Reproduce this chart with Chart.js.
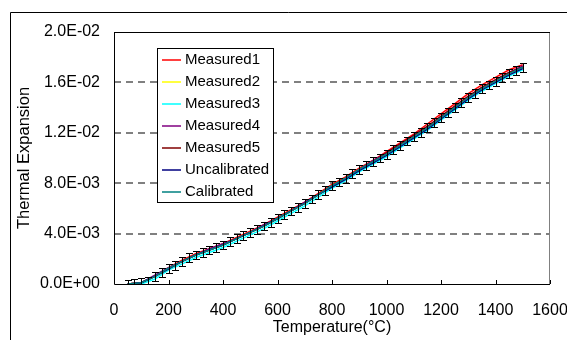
<!DOCTYPE html>
<html>
<head>
<meta charset="utf-8">
<script src="https://cdn.jsdelivr.net/npm/chart.js@4/dist/chart.umd.min.js"></script>
<style>
	html, body { margin: 0; padding: 0; background: #fff; }
</style>
</head>
<body>
<canvas id="chart" width="567" height="340"></canvas>
<script>
// temperatures (°C) of the line series
const temps = [50, 100, 150, 200, 250, 300, 350, 400, 450, 500, 550, 600, 650, 700, 750,
	800, 850, 900, 950, 1000, 1050, 1100, 1150, 1200, 1250, 1300, 1350, 1400, 1450, 1500];

const measured1 = [0, 0.0001, 0.0006, 0.0013, 0.0019, 0.0024, 0.0028, 0.0032, 0.0037, 0.0042, 0.0047, 0.0053, 0.0059, 0.0065, 0.0072,
	0.0079, 0.0085, 0.0092, 0.0098, 0.0105, 0.0112, 0.0119, 0.0127, 0.0135, 0.0143, 0.0151, 0.0158, 0.0164, 0.0170, 0.0174];
const measured2 = [0, 0.0001, 0.0006, 0.0012, 0.0018, 0.0023, 0.0027, 0.0031, 0.0036, 0.0041, 0.0046, 0.0052, 0.0058, 0.0064, 0.0071,
	0.0078, 0.0084, 0.0091, 0.0097, 0.0103, 0.0110, 0.0117, 0.0124, 0.0132, 0.0140, 0.0148, 0.0155, 0.0161, 0.0167, 0.0172];
const measured3 = [0, 0.0000, 0.0004, 0.0011, 0.0016, 0.0021, 0.0025, 0.0029, 0.0034, 0.0039, 0.0044, 0.0050, 0.0056, 0.0062, 0.0069,
	0.0076, 0.0082, 0.0089, 0.0095, 0.0101, 0.0108, 0.0115, 0.0122, 0.0130, 0.0138, 0.0146, 0.0153, 0.0159, 0.0165, 0.0170];
const measured4 = [0, 0.0001, 0.0007, 0.0013, 0.0018, 0.0023, 0.0028, 0.0032, 0.0036, 0.0041, 0.0047, 0.0052, 0.0058, 0.0065, 0.0071,
	0.0078, 0.0084, 0.0091, 0.0098, 0.0104, 0.0111, 0.0118, 0.0125, 0.0133, 0.0141, 0.0149, 0.0156, 0.0162, 0.0168, 0.0173];
const measured5 = [0, 0.0001, 0.0006, 0.0012, 0.0018, 0.0023, 0.0027, 0.0031, 0.0036, 0.0041, 0.0046, 0.0052, 0.0058, 0.0064, 0.0071,
	0.0078, 0.0084, 0.0091, 0.0097, 0.0104, 0.0111, 0.0118, 0.0125, 0.0133, 0.0141, 0.0149, 0.0156, 0.0162, 0.0168, 0.0172];
const uncalibrated = [0, 0.0001, 0.0006, 0.0012, 0.0018, 0.0023, 0.0027, 0.0031, 0.0036, 0.0041, 0.0046, 0.0052, 0.0058, 0.0064, 0.0071,
	0.0077, 0.0083, 0.0090, 0.0096, 0.0102, 0.0109, 0.0116, 0.0123, 0.0131, 0.0139, 0.0147, 0.0154, 0.0160, 0.0166, 0.0171];
const calibrated = [0, 0.0001, 0.0006, 0.00125, 0.0018, 0.0023, 0.0027, 0.0031, 0.0036, 0.0041, 0.0046, 0.0052, 0.0058, 0.0064, 0.0071,
	0.0078, 0.0084, 0.0091, 0.0097, 0.0103, 0.0110, 0.0117, 0.0124, 0.0132, 0.0140, 0.0148, 0.0155, 0.0161, 0.0167, 0.0172];

// error bars (every 25 °C)
const errTemps = [50, 75, 100, 125, 150, 175, 200, 225, 250, 275, 300, 325, 350, 375, 400, 425, 450, 475, 500,
	525, 550, 575, 600, 625, 650, 675, 700, 725, 750, 775, 800, 825, 850, 875, 900, 925, 950, 975, 1000,
	1025, 1050, 1075, 1100, 1125, 1150, 1175, 1200, 1225, 1250, 1275, 1300, 1325, 1350, 1375, 1400, 1425, 1450, 1475, 1500];
const errValues = [0, 0.00003, 0.0001, 0.0002, 0.0006, 0.0009, 0.00125, 0.0015, 0.0018, 0.0021, 0.0023, 0.0025, 0.0027, 0.0029, 0.0031,
	0.00335, 0.0036, 0.00385, 0.0041, 0.00435, 0.0046, 0.0049, 0.0052, 0.0055, 0.0058, 0.0061, 0.0064, 0.00675, 0.0071, 0.00745,
	0.0078, 0.0081, 0.0084, 0.00875, 0.0091, 0.0094, 0.0097, 0.0100, 0.0103, 0.01065, 0.0110, 0.01135, 0.0117, 0.01205, 0.0124,
	0.0128, 0.0132, 0.0136, 0.0140, 0.0144, 0.0148, 0.01515, 0.0155, 0.0158, 0.0161, 0.0164, 0.0167, 0.01695, 0.0172];
const errHalf = 0.00035;

const seriesNames = ["Measured1", "Measured2", "Measured3", "Measured4", "Measured5", "Uncalibrated", "Calibrated"];
const seriesValues = [measured1, measured2, measured3, measured4, measured5, uncalibrated, calibrated];
const seriesColors = ["#ff0000", "#ffff00", "#00ffff", "#800080", "#800000", "#000080", "#008080"];

const xTicks = [0, 200, 400, 600, 800, 1000, 1200, 1400, 1600];
const yTicks = [0, 0.004, 0.008, 0.012, 0.016, 0.02];
const yTickLabels = ["0.0E+00", "4.0E-03", "8.0E-03", "1.2E-02", "1.6E-02", "2.0E-02"];

const FONT = "'Liberation Sans', Arial, sans-serif";

const datasets = seriesNames.map((name, i) => ({
	label: name,
	data: temps.map((t, j) => ({ x: t, y: seriesValues[i][j] })),
	borderColor: seriesColors[i],
	backgroundColor: seriesColors[i],
	borderWidth: 1.5,
	pointRadius: 0,
	tension: 0,
	fill: false,
	order: seriesNames.length - i,
}));

const decorPlugin = {
	id: "decor",
	beforeDraw(chart) {
		const ctx = chart.ctx;
		ctx.save();
		ctx.fillStyle = "#fff";
		ctx.fillRect(0, 0, chart.width, chart.height);
		ctx.strokeStyle = "#000";
		ctx.lineWidth = 1;
		ctx.beginPath();
		ctx.moveTo(10.5, chart.height);
		ctx.lineTo(10.5, 12.5);
		ctx.lineTo(chart.width, 12.5);
		ctx.stroke();
		ctx.restore();
	},
	afterDatasetsDraw(chart) {
		const ctx = chart.ctx;
		const xs = chart.scales.x;
		const ys = chart.scales.y;
		const a = chart.chartArea;

		// error bars
		ctx.save();
		ctx.beginPath();
		ctx.rect(a.left, a.top, a.right - a.left, a.bottom - a.top);
		ctx.clip();
		ctx.strokeStyle = "#000";
		ctx.lineWidth = 1;
		ctx.beginPath();
		errTemps.forEach((t, i) => {
			const x = Math.round(xs.getPixelForValue(t)) + 0.5;
			const y1 = Math.round(ys.getPixelForValue(errValues[i] - errHalf)) + 0.5;
			const y2 = Math.round(ys.getPixelForValue(errValues[i] + errHalf)) + 0.5;
			ctx.moveTo(x, y1);
			ctx.lineTo(x, y2);
			ctx.moveTo(x - 3.5, y1);
			ctx.lineTo(x + 3.5, y1);
			ctx.moveTo(x - 3.5, y2);
			ctx.lineTo(x + 3.5, y2);
		});
		ctx.stroke();
		ctx.restore();

		// plot border
		ctx.save();
		ctx.lineWidth = 1;
		ctx.strokeStyle = "#808080";
		ctx.beginPath();
		ctx.moveTo(a.right - 0.5, a.top);
		ctx.lineTo(a.right - 0.5, a.bottom);
		ctx.stroke();
		ctx.strokeStyle = "#000";
		ctx.beginPath();
		ctx.moveTo(a.left + 0.5, a.top + 0.5);
		ctx.lineTo(a.right, a.top + 0.5);
		ctx.moveTo(a.left + 0.5, a.top);
		ctx.lineTo(a.left + 0.5, a.bottom + 0.5);
		ctx.lineTo(a.right, a.bottom + 0.5);
		// inward x ticks
		xTicks.forEach((t) => {
			const x = Math.round(xs.getPixelForValue(t)) + 0.5;
			ctx.moveTo(x, a.bottom);
			ctx.lineTo(x, a.bottom - 4);
		});
		ctx.stroke();
		ctx.restore();
	},
	afterDraw(chart) {
		const ctx = chart.ctx;
		const left = 157, top = 48, w = 116, rowH = 22;
		ctx.save();
		ctx.fillStyle = "#fff";
		ctx.fillRect(left, top, w, rowH * seriesNames.length);
		ctx.strokeStyle = "#000";
		ctx.lineWidth = 1;
		ctx.strokeRect(left + 0.5, top + 0.5, w, rowH * seriesNames.length);
		ctx.font = "15px " + FONT;
		ctx.textBaseline = "middle";
		ctx.fillStyle = "#000";
		seriesNames.forEach((name, i) => {
			const y = top + 12 + i * rowH;
			ctx.strokeStyle = seriesColors[i];
			ctx.lineWidth = 1.5;
			ctx.beginPath();
			ctx.moveTo(left + 5, y);
			ctx.lineTo(left + 24, y);
			ctx.stroke();
			ctx.fillText(name, left + 28, y);
		});
		ctx.restore();
	},
};

const config = {
	type: "line",
	data: { datasets: datasets },
	options: {
		responsive: false,
		animation: false,
		devicePixelRatio: 1,
		layout: { padding: { left: 0, right: 17, top: 32, bottom: 0 } },
		plugins: {
			legend: { display: false },
			tooltip: { enabled: false },
		},
		scales: {
			x: {
				type: "linear",
				min: 0,
				max: 1600,
				afterFit: (scale) => {
					scale.height = 56;
					scale.paddingLeft = 0;
					scale.paddingRight = 0;
				},
				afterBuildTicks: (scale) => { scale.ticks = xTicks.map((v) => ({ value: v })); },
				ticks: {
					padding: 17,
					color: "#000",
					font: { family: FONT, size: 16 },
					callback: (v) => String(v),
				},
				grid: { display: false, drawTicks: false },
				border: { display: false },
				title: {
					display: true,
					text: "Temperature(°C)",
					color: "#000",
					font: { family: FONT, size: 16 },
					padding: { top: 0, bottom: 3 },
				},
			},
			y: {
				type: "linear",
				min: 0,
				max: 0.02,
				afterFit: (scale) => {
					scale.width = 114;
					scale.paddingTop = 0;
					scale.paddingBottom = 0;
				},
				afterBuildTicks: (scale) => { scale.ticks = yTicks.map((v) => ({ value: v })); },
				ticks: {
					padding: 14,
					color: "#000",
					font: { family: FONT, size: 16 },
					callback: (v, i) => yTickLabels[i],
				},
				grid: {
					drawTicks: false,
					lineWidth: 2,
					color: (c) => (c.index === 0 || c.index === yTicks.length - 1 ? "rgba(0,0,0,0)" : "#808080"),
				},
				border: { display: false, dash: [7, 5] },
				title: {
					display: true,
					text: "Thermal Expansion",
					color: "#000",
					font: { family: FONT, size: 16.5 },
					padding: { top: 15, bottom: 0 },
				},
			},
		},
	},
	plugins: [decorPlugin],
};

new Chart(document.getElementById("chart").getContext("2d"), config);
</script>
</body>
</html>
